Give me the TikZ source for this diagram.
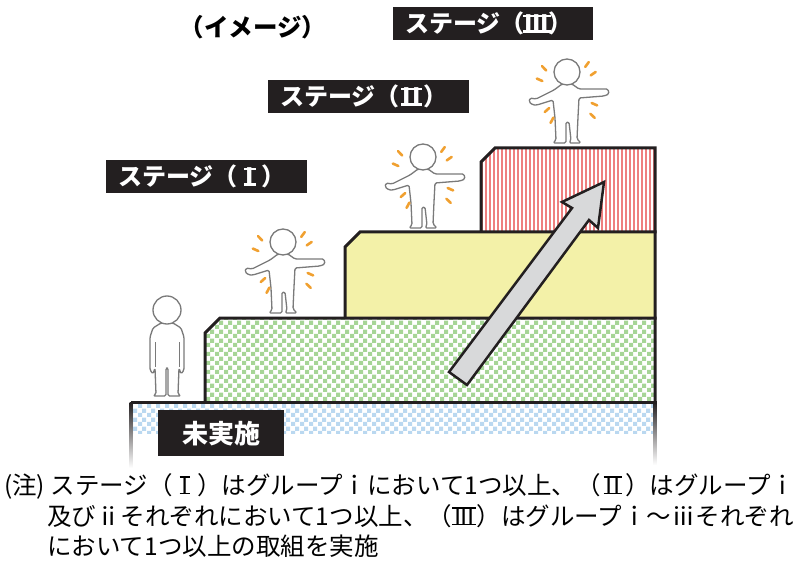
\documentclass[tikz,border=0pt]{standalone}
\usepackage{fontspec}
\newfontfamily\jp{Noto Sans CJK JP}
\usetikzlibrary{patterns.meta}

\definecolor{ink}{HTML}{231F20}
\definecolor{greenc}{HTML}{A6D596}
\definecolor{bluec}{HTML}{BAD8F0}
\definecolor{yellowc}{HTML}{F3F1A8}
\definecolor{redc}{HTML}{EE7F7F}
\definecolor{arrowc}{HTML}{D8D9DA}
\definecolor{sparkc}{HTML}{F0A030}
\definecolor{figline}{HTML}{7A7A7A}

% roman numeral set in a full-width cell with bars on top and bottom
\newcommand\numbar[2][0.1em]{\makebox[1em]{\setbox0=\hbox{\kern0.07em#2\kern0.07em}%
  \rlap{\rule{\wd0}{#1}}\rlap{\rule[\dimexpr\ht0-#1\relax]{\wd0}{#1}}\box0}}

\tikzdeclarepattern{
  name=checks, type=uncolored,
  bounding box={(0pt,0pt) and (8.6pt,8.6pt)},
  tile size={(8.6pt,8.6pt)},
  code={\fill (0pt,0pt) rectangle (4.3pt,4.3pt);
        \fill (4.3pt,4.3pt) rectangle (8.6pt,8.6pt);}
}

\begin{document}
\begin{tikzpicture}[x=1pt,y=-1pt,
  stagebox/.style={fill=ink,text=white,font=\jp\bfseries\fontsize{24}{24}\selectfont,minimum height=33pt,inner xsep=12pt,inner ysep=0pt,text width=177pt,align=left,anchor=north west},
  tread/.style={draw=ink,line width=3pt,line join=miter},
  noteline/.style={font=\jp\fontsize{24.5}{24.5}\selectfont,anchor=base west,inner sep=0pt},
  spark/.style={draw=sparkc,line width=2.6pt,line cap=round},
  figbody/.style={fill=white,draw=figline,line width=1.3pt,line join=round,rounded corners=1.5pt},
  cheerer/.pic={
    \path[figbody] (-5,12) -- (-13,18) -- (-31,27) -- (-37,26) -- (-38,30) -- (-34,33) -- (-30,33) -- (-14,28)
      -- (-12,46) -- (-11,68) -- (-14,71) -- (-1,71) -- (-1,50) -- (2,50) -- (4,68) -- (2,71) -- (14,71) -- (10,67)
      -- (11,45) -- (12,26) -- (37,24) -- (42,22) -- (41,17) -- (36,17) -- (12,17) -- (5,12) -- cycle;
    \path[figbody] (0,0) circle (13);
    \foreach \a/\r in {226/33,204/30,138/27,118/32,306/34,325/32,24/30,43/35}
      \draw[spark] (0,20) ++(\a:{\r-3}) -- ++(\a:6);
  },
  waiter/.pic={
    \path[figbody] (-6,13) -- (-14,18) -- (-17,27) -- (-17,60) -- (-14,64) -- (-12,58) -- (-11,84) -- (-14,86)
      -- (-1,86) -- (-1,58) -- (1,58) -- (1,86) -- (14,86) -- (11,84) -- (12,58) -- (14,64) -- (17,60) -- (17,27)
      -- (14,18) -- (6,13) -- cycle;
    \draw[figline,line width=1pt] (-12,32) -- (-12,57) (12,32) -- (12,57);
    \path[figbody] (0,0) circle (14);
  }]
\useasboundingbox (0,0) rectangle (809,564);

% treads
\fill[pattern=checks,pattern color=bluec] (131,402) rectangle (655,433);
\fill[pattern=checks,pattern color=greenc] (205,402) -- (205,333) -- (220,318) -- (655,318) -- (655,402) -- cycle;
\fill[yellowc] (345,318) -- (345,247) -- (360,232) -- (655,232) -- (655,318) -- cycle;
\begin{scope}
  \clip (481,232) -- (481,162) -- (495,148) -- (655,148) -- (655,232) -- cycle;
  \foreach \x in {481,485,...,655} \fill[redc] (\x,148) rectangle ++(2.4,84);
\end{scope}

\shade[top color=ink,bottom color=white] (129.5,402) rectangle (132.5,468);
\shade[top color=ink,bottom color=white] (653.5,402) rectangle (656.5,465);
\draw[tread] (131,402) -- (656.5,402);
\draw[tread] (205,402) -- (205,333) -- (220,318) -- (656.5,318);
\draw[tread] (345,318) -- (345,247) -- (360,232) -- (656.5,232);
\draw[tread] (481,232) -- (481,162) -- (495,148) -- (655,148) -- (655,402);

% rising arrow
\draw[fill=arrowc,draw=ink,line width=2.5pt,line join=miter]
  (449,372) -- (572,208) -- (562,202) -- (604,182) -- (598,228) -- (589,220) -- (467,385) -- cycle;

% people
\pic at (167,310) {waiter};
\pic at (283,242) {cheerer};
\pic at (423,157) {cheerer};
\pic at (567,72) {cheerer};

% labels
\node[font=\jp\bfseries\fontsize{24.5}{24.5}\selectfont] (title) at (253,27) {（イメージ）};
\node[stagebox] (stage1) at (106,160) {ステージ（\numbar{I}）};
\node[stagebox] (stage2) at (268,80) {ステージ（\numbar{I\kern0.04em I}）};
\node[stagebox,text width=176pt] (stage3) at (393,7) {ステージ（\numbar{I\kern-0.02em I\kern-0.02em I}）};
\node[fill=ink,text=white,font=\jp\bfseries\fontsize{26}{26}\selectfont,minimum width=126pt,minimum height=46pt,inner sep=0pt,anchor=north west] (none) at (158,410) {未実施};

\node[noteline] (note1) at (4,494) {(注) ステージ（\numbar[0.06em]{I}）はグループｉにおいて1つ以上、（\numbar[0.06em]{I\kern0.04em I}）はグループｉ};
\node[noteline] (note2) at (47,525) {及びⅱそれぞれにおいて1つ以上、（\numbar[0.06em]{I\kern-0.02em I\kern-0.02em I}）はグループｉ～ⅲそれぞれ};
\node[noteline] (note3) at (47,555) {において1つ以上の取組を実施};
\end{tikzpicture}
\end{document}
